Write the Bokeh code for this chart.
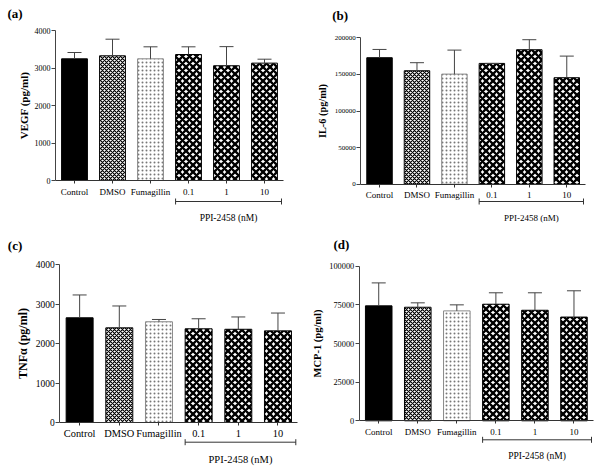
from bokeh.plotting import figure
from bokeh.models import (ColumnDataSource, Range1d, FixedTicker, Whisker, TeeHead, Label,
                          BasicTickFormatter, CDSView, IndexFilter)
from bokeh.layouts import column, row
from bokeh.embed import file_html
from bokeh.resources import INLINE

# ---------------- data ----------------
categories = ["Control", "DMSO", "Fumagillin", "0.1", "1", "10"]
ppi_group = ["0.1", "1", "10"]
ppi_label = "PPI-2458 (nM)"

vegf_mean = [3245, 3325, 3245, 3360, 3060, 3130]
vegf_sd = [168, 443, 320, 205, 510, 105]
vegf_ticks = [0, 1000, 2000, 3000, 4000]

il6_mean = [172800, 155000, 150400, 165000, 183700, 145500]
il6_sd = [11300, 11000, 32800, 0, 13700, 29500]
il6_ticks = [0, 50000, 100000, 150000, 200000]

tnf_mean = [2651, 2397, 2550, 2372, 2360, 2320]
tnf_sd = [578, 553, 58, 254, 312, 451]
tnf_ticks = [0, 1000, 2000, 3000, 4000]

mcp_mean = [74350, 73450, 71100, 75400, 71500, 67100]
mcp_sd = [14850, 2850, 3900, 7400, 11300, 17000]
mcp_ticks = [0, 25000, 50000, 75000, 100000]

FONT = "Liberation Serif"
W, H = 300, 235

STYLES = {
    "Control": dict(fill_color="black", line_color="black"),
    "DMSO": dict(fill_color="white", line_color="black", hatch_pattern="diagonal_cross",
                 hatch_color="black", hatch_scale=4, hatch_weight=1.2),
    "Fumagillin": dict(fill_color="white", line_color="#888888", hatch_pattern="dot",
                       hatch_color="#777777", hatch_scale=4, hatch_weight=1),
    "PPI": dict(fill_color="white", line_color="black", hatch_pattern="diagonal_cross",
                hatch_color="black", hatch_scale=7, hatch_weight=2.3),
}


def panel(tag, means, sds, ticks, ylabel, cfg):
    ymax = ticks[-1]
    n = len(categories)
    sp = (cfg["xend"] - cfg["ax"]) / n            # px per category
    vpx = ymax / (cfg["y0"] - cfg["top"])         # data units per px
    x_range = Range1d(-cfg["ax"] / sp, (W - cfg["ax"]) / sp)
    y_range = Range1d(-(H - cfg["y0"]) * vpx, cfg["y0"] * vpx)

    pos = [i + 0.5 for i in range(n)]
    src = ColumnDataSource(dict(x=pos, cat=categories, val=means,
                                top=[m + s for m, s in zip(means, sds)]))
    p = figure(width=W, height=H, x_range=x_range, y_range=y_range,
               output_backend="svg", toolbar_location=None, min_border=0)
    p.outline_line_color = None
    p.xgrid.visible = False
    p.ygrid.visible = False
    p.background_fill_color = "white"
    p.border_fill_color = "white"

    for i, c in enumerate(categories):
        st = STYLES["PPI"] if c in ppi_group else STYLES[c]
        p.vbar(x="x", top="val", bottom=0, width=0.68, source=src,
               view=CDSView(filter=IndexFilter([i])), line_width=1, **st)

    err = Whisker(source=src, base="x", lower="val", upper="top", dimension="height",
                  line_color="#444444", line_width=1, level="overlay",
                  upper_head=TeeHead(size=14, line_color="#444444", line_width=1),
                  lower_head=None)
    p.add_layout(err)

    ax = p.xaxis[0]
    ax.fixed_location = 0
    ax.bounds = (0, n)
    ax.ticker = FixedTicker(ticks=pos, minor_ticks=[])
    ax.major_label_overrides = {x: c for x, c in zip(pos, categories)}
    ax.major_label_text_font = FONT
    ax.major_label_text_font_size = f"{cfg['cat_fs']}px"
    ax.major_label_text_color = "black"
    ax.major_tick_out = 3
    ax.major_tick_in = 0
    ax.minor_tick_line_color = None
    ax.major_label_standoff = cfg["cat_so"]
    ax.axis_line_color = "#333333"
    ax.major_tick_line_color = "#333333"

    ay = p.yaxis[0]
    ay.fixed_location = 0
    ay.bounds = (0, ymax)
    ay.ticker = FixedTicker(ticks=ticks, minor_ticks=[])
    ay.formatter = BasicTickFormatter(use_scientific=False)
    ay.minor_tick_line_color = None
    ay.major_tick_out = 4
    ay.major_tick_in = 0
    ay.major_label_standoff = 1
    ay.major_label_text_font = FONT
    ay.major_label_text_font_size = f"{cfg['tick_fs']}px"
    ay.major_label_text_color = "black"
    ay.axis_line_color = "#444444"
    ay.major_tick_line_color = "#444444"
    ay.axis_label = ylabel
    ay.axis_label_text_font = FONT
    ay.axis_label_text_font_style = "bold"
    ay.axis_label_text_font_size = f"{cfg['lab_fs']}px"
    ay.axis_label_text_color = "black"
    ay.axis_label_standoff = cfg["als"]

    # group bracket below the PPI-2458 categories
    first = categories.index(ppi_group[0])
    x0 = first + 0.5 - 0.34
    x1 = n - 2 / sp
    by = -cfg["br_px"] * vpx
    br = Whisker(base=by, lower=x0, upper=x1, dimension="width",
                 line_color="#333333", line_width=1, level="overlay",
                 lower_head=TeeHead(size=6, line_color="#333333", line_width=1),
                 upper_head=TeeHead(size=6, line_color="#333333", line_width=1))
    p.add_layout(br)
    p.add_layout(Label(x=(x0 + x1) / 2, y=-cfg["ppi_px"] * vpx, text=ppi_label,
                       text_align="center", text_baseline="middle",
                       text_font=FONT, text_font_size=f"{cfg['ppi_fs']}px",
                       text_color="black"))
    # panel tag
    p.add_layout(Label(x=(cfg["tag_x"] - cfg["ax"]) / sp,
                       y=(cfg["y0"] - cfg["tag_y"]) * vpx, text=tag,
                       text_align="left", text_baseline="middle",
                       text_font=FONT, text_font_style="bold", text_font_size="13px",
                       text_color="black"))
    return p


# geometry in px within each 300x235 panel: y axis x, right end, top tick y, zero y
A = dict(ax=55, xend=283, top=30, y0=180, tick_fs=8, cat_fs=9, cat_so=3, lab_fs=11,
         ppi_fs=9.5, als=2, br_px=21, ppi_px=37, tag_x=7, tag_y=13.3)
B = dict(ax=60.3, xend=285, top=37.3, y0=183.7, tick_fs=7, cat_fs=9, cat_so=3, lab_fs=10.3,
         ppi_fs=9, als=4, br_px=17.3, ppi_px=34, tag_x=31.7, tag_y=15.3)
C = dict(ax=59.3, xend=297.3, top=29, y0=187, tick_fs=9.5, cat_fs=10.4, cat_so=2, lab_fs=12,
         ppi_fs=10.5, als=3, br_px=19.7, ppi_px=37, tag_x=7.3, tag_y=9.7)
D = dict(ax=58.7, xend=293, top=30.7, y0=185.3, tick_fs=8.3, cat_fs=9, cat_so=3, lab_fs=10.5,
         ppi_fs=9.5, als=4, br_px=19, ppi_px=35, tag_x=33, tag_y=8.8)

pa = panel("(a)", vegf_mean, vegf_sd, vegf_ticks, "VEGF (pg/ml)", A)
pb = panel("(b)", il6_mean, il6_sd, il6_ticks, "IL-6 (pg/ml)", B)
pc = panel("(c)", tnf_mean, tnf_sd, tnf_ticks, "TNFα (pg/ml)", C)
pd = panel("(d)", mcp_mean, mcp_sd, mcp_ticks, "MCP-1 (pg/ml)", D)

layout = column(row(pa, pb), row(pc, pd))
open("out.html", "w").write(file_html(layout, INLINE))
